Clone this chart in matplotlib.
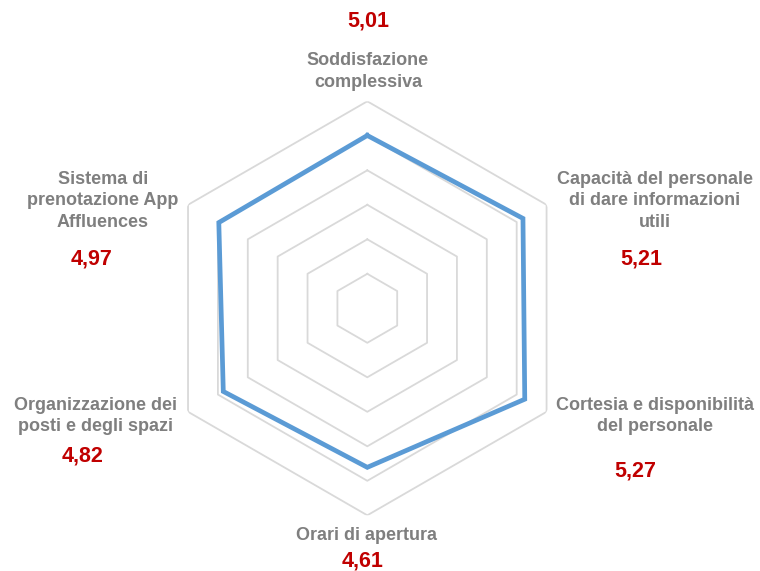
import numpy as np
import matplotlib
matplotlib.use("Agg")
import matplotlib.pyplot as plt

plt.rcParams['font.family'] = ['Liberation Sans', 'DejaVu Sans']

# data
categories = ["Soddisfazione\ncomplessiva",
              "Capacità del personale\ndi dare informazioni\nutili",
              "Cortesia e disponibilità\ndel personale",
              "Orari di apertura",
              "Organizzazione dei\nposti e degli spazi",
              "Sistema di\nprenotazione App\nAffluences"]
values = [5.01, 5.21, 5.27, 4.61, 4.82, 4.97]
value_labels = ["5,01", "5,21", "5,27", "4,61", "4,82", "4,97"]
ring_levels = [1, 2, 3, 4, 5, 6]

W, H = 760, 571
fig = plt.figure(figsize=(W / 100, H / 100), dpi=100)

# center (367, 308 from top), outer radius ~207 px
cx, cy, R = 367.3, 571 - 308.3, 207.0
ax = fig.add_axes([(cx - R) / W, (cy - R) / H, 2 * R / W, 2 * R / H], projection='polar')
ax.set_theta_offset(np.pi / 2)
ax.set_theta_direction(-1)
ax.set_ylim(0, 6)
ax.grid(False)
ax.spines['polar'].set_visible(False)
ax.set_xticks([])
ax.set_yticks([])
ax.patch.set_alpha(0)

n = len(values)
theta = np.linspace(0, 2 * np.pi, n, endpoint=False)
theta_c = np.append(theta, theta[0])

for lv in ring_levels:
    ax.plot(theta_c, [lv] * (n + 1), color="#D9D9D9", lw=1.3, zorder=1)

vals_c = np.append(values, values[0])
ax.plot(theta_c, vals_c, color="#5B9BD5", lw=3.4, zorder=3, solid_joinstyle='miter')

# label placement (pixels from top-left)
label_pos = [(368, 71.5), (655, 201), (655, 416), (367, 535), (95, 416), (103, 201)]
value_pos = [(368, 21.5), (641, 259), (635, 471.5), (363, 561), (83, 456), (92, 259)]

for txt, (x, y) in zip(categories, label_pos):
    fig.text(x / W, 1 - y / H, txt, ha='center', va='center', color="#7F7F7F",
             fontsize=13, fontweight='bold', linespacing=1.32)
for txt, (x, y) in zip(value_labels, value_pos):
    fig.text(x / W, 1 - y / H, txt, ha='center', va='center', color="#C00000",
             fontsize=15.5, fontweight='bold')

fig.savefig("out.png", dpi=100)
